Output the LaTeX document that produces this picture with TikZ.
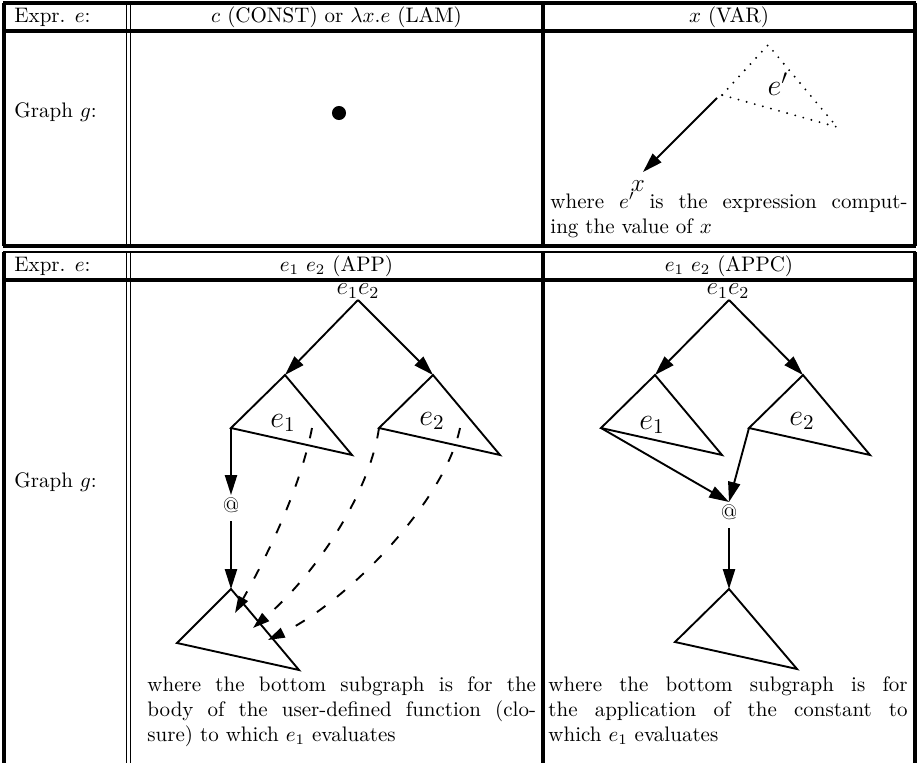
\documentclass[tikz,border=0pt]{standalone}
\usetikzlibrary{arrows.meta}
\begin{document}
\begin{tikzpicture}[x=0.476pt,y=-0.476pt,
  rulethick/.style={line width=1.45pt},
  rulethin/.style={line width=0.95pt},
  edge/.style={line width=0.9pt},
  arr/.style={edge,-{Triangle[length=9.5pt,width=5.8pt]}},
  darr/.style={edge,dash pattern=on 5pt off 7pt,-{Triangle[length=8pt,width=5pt]}},
  dotline/.style={line width=1pt,line cap=round,dash pattern=on 0pt off 4pt},
  lbl/.style={inner sep=0pt,anchor=base west},
  hdr/.style={inner sep=0pt,anchor=base},
  tri/.style={inner sep=0pt},
  atnode/.style={inner sep=1pt},
]
\useasboundingbox (0,0) rectangle (917,763);

% ---------- table 1 rules ----------
\draw[rulethick] (3,3) -- (916,3);
\draw[rulethick] (3,31) -- (916,31);
\draw[rulethick] (3,246) -- (916,246);
\draw[rulethick] (4,3) -- (4,246);
\draw[rulethin] (126.5,3) -- (126.5,246);
\draw[rulethin] (130.5,3) -- (130.5,246);
\draw[rulethick] (543,3) -- (543,246);
\draw[rulethick] (915,3) -- (915,246);

% ---------- table 2 rules ----------
\draw[rulethin] (3,252) -- (916,252);
\draw[rulethick] (3,280) -- (916,280);
\draw[rulethick] (4,252) -- (4,763);
\draw[rulethin] (126.5,252) -- (126.5,763);
\draw[rulethin] (130.5,252) -- (130.5,763);
\draw[rulethick] (543,252) -- (543,763);
\draw[rulethick] (915,252) -- (915,763);

% ---------- table 1 texts ----------
\node[lbl] (h1) at (14,22) {Expr. $e$:};
\node[hdr] (h2) at (336.5,22) {$c$ (CONST) or $\lambda x.e$ (LAM)};
\node[hdr] (h3) at (729,22) {$x$ (VAR)};
\node[lbl] (g1) at (14,117) {Graph $g$:};

% CONST / LAM
\node[circle,fill,inner sep=0pt,minimum size=6.7pt] (dot) at (339,113) {};

% VAR
\coordinate (vL) at (722,95);
\coordinate (vA) at (768,45);
\coordinate (vR) at (837,127);
\draw[dotline] (vL) -- (vA) -- (vR) -- cycle;
\node[tri] (ep) at (778,84) {\Large $e'$};
\coordinate (vs) at (717,98);
\coordinate (vt) at (643,172);
\node[tri] (vx) at (638,186) {\large $x$};
\draw[arr] (vs) -- (vt);
\node[lbl] (c1) at (550,208) {\parbox[t]{170pt}{\makebox[170pt][s]{where $e'$ is the expression comput-}\\ing the value of $x$}};

% ---------- table 2 texts ----------
\node[lbl] (h4) at (14,271) {Expr. $e$:};
\node[hdr] (h5) at (336.5,271) {$e_1$ $e_2$ (APP)};
\node[hdr] (h6) at (729,271) {$e_1$ $e_2$ (APPC)};
\node[lbl] (g2) at (14,487) {Graph $g$:};

% ---------- APP ----------
\node[tri] (top1) at (358,291) {\large $e_1e_2$};
\coordinate (f1) at (358,300);
\coordinate (a1) at (285,375);
\coordinate (l1) at (231,428);
\coordinate (r1) at (352,455);
\coordinate (a2) at (433,375);
\coordinate (l2) at (379,428);
\coordinate (r2) at (500,455);
\draw[arr] (f1) -- (a1);
\draw[arr] (f1) -- (a2);
\draw[edge] (a1) -- (l1) -- (r1) -- cycle;
\draw[edge] (a2) -- (l2) -- (r2) -- cycle;
\node[tri] (e1a) at (283,423) {\Large $e_1$};
\node[tri] (e2a) at (432,421) {\Large $e_2$};
\node[atnode] (at1) at (231,505) {@};
\draw[arr] (l1) -- (at1.north);
\coordinate (b1a) at (231,589);
\coordinate (b1l) at (177,643);
\coordinate (b1r) at (299,670);
\draw[arr,shorten <=3pt] (at1.south) -- (b1a);
\draw[edge] (b1a) -- (b1l) -- (b1r) -- cycle;
\coordinate (d1s) at (312,428);
\coordinate (d1e) at (235,613);
\coordinate (d2e) at (253,628);
\coordinate (d3s) at (460,428);
\coordinate (d3e) at (268,640);
\draw[darr] (d1s) .. controls (300,490) and (265,560) .. (d1e);
\draw[darr] (l2) .. controls (370,490) and (320,570) .. (d2e);
\draw[darr] (d3s) .. controls (445,500) and (350,600) .. (d3e);
\node[lbl] (c2) at (147,691) {\parbox[t]{185pt}{\makebox[185pt][s]{where the bottom subgraph is for the}\\\makebox[185pt][s]{body of the user-defined function (clo-}\\sure) to which $e_1$ evaluates}};

% ---------- APPC ----------
\node[tri] (top2) at (728,291) {\large $e_1e_2$};
\coordinate (f2) at (729,300);
\coordinate (a3) at (655,375);
\coordinate (l3) at (601,428);
\coordinate (r3) at (722,455);
\coordinate (a4) at (803,375);
\coordinate (l4) at (749,428);
\coordinate (r4) at (870,455);
\draw[arr] (f2) -- (a3);
\draw[arr] (f2) -- (a4);
\draw[edge] (a3) -- (l3) -- (r3) -- cycle;
\draw[edge] (a4) -- (l4) -- (r4) -- cycle;
\node[tri] (e1b) at (652,425) {\Large $e_1$};
\node[tri] (e2b) at (802,421) {\Large $e_2$};
\node[atnode] (at2) at (729,512) {@};
\draw[arr] (l3) -- (at2.north);
\draw[arr] (l4) -- (at2.north);
\coordinate (b2a) at (729,589);
\coordinate (b2l) at (675,642);
\coordinate (b2r) at (797,669);
\draw[arr,shorten <=3pt] (at2.south) -- (b2a);
\draw[edge] (b2a) -- (b2l) -- (b2r) -- cycle;
\node[lbl] (c3) at (548,691) {\parbox[t]{171pt}{\makebox[171pt][s]{where the bottom subgraph is for}\\\makebox[171pt][s]{the application of the constant to}\\which $e_1$ evaluates}};
\end{tikzpicture}
\end{document}
